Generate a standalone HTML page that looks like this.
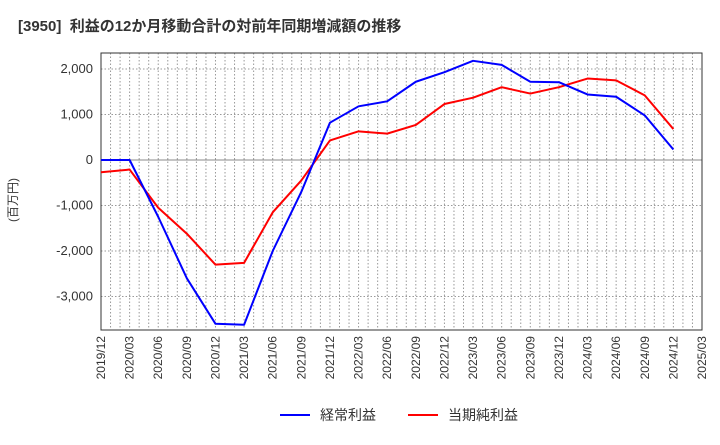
<!DOCTYPE html>
<html><head><meta charset="utf-8"><style>
body{margin:0;background:#fff;font-family:"Liberation Sans","Noto Sans CJK JP",sans-serif;}
</style></head><body>
<svg width="720" height="440" xmlns="http://www.w3.org/2000/svg" font-family="Liberation Sans, Noto Sans CJK JP, sans-serif">
<text x="18" y="31" font-size="15" font-weight="bold" fill="#333" xml:space="preserve">[3950]  利益の12か月移動合計の対前年同期増減額の推移</text>
<g id="grid"></g>
<g id="axes"></g>
<g id="series"></g>
<text transform="translate(17,200) rotate(-90)" font-size="12" fill="#333" text-anchor="middle">(百万円)</text>
<g>
<line x1="280" y1="415" x2="310" y2="415" stroke="#0000ff" stroke-width="2"/>
<text x="320" y="420" font-size="14" fill="#333">経常利益</text>
<line x1="408" y1="415" x2="438" y2="415" stroke="#ff0000" stroke-width="2"/>
<text x="448" y="420" font-size="14" fill="#333">当期純利益</text>
</g>
</svg>
<script>
const categories=["2019/12","2020/03","2020/06","2020/09","2020/12","2021/03","2021/06","2021/09","2021/12","2022/03","2022/06","2022/09","2022/12","2023/03","2023/06","2023/09","2023/12","2024/03","2024/06","2024/09","2024/12","2025/03"];
const ordinaryValues=[0,0,-1250,-2600,-3600,-3620,-2000,-700,820,1180,1290,1720,1930,2180,2090,1720,1710,1440,1390,980,230];
const netValues=[-270,-210,-1050,-1620,-2300,-2260,-1150,-450,430,630,580,770,1230,1370,1600,1460,1600,1790,1750,1420,680];
const yTicks=[2000,1000,0,-1000,-2000,-3000];
const yTickLabels=["2,000","1,000","0","-1,000","-2,000","-3,000"];
const NS="http://www.w3.org/2000/svg";
const L=101,R=702,T=53,B=330;
const xs=i=>L+i*(R-L)/21;
const ys=v=>160-v*0.0455;
function mk(p,tag,a){const e=document.createElementNS(NS,tag);for(const k in a)e.setAttribute(k,a[k]);p.appendChild(e);return e;}
const grid=document.getElementById('grid'),axes=document.getElementById('axes'),ser=document.getElementById('series');
for(let m=1;m<63;m++){const x=L+m*(R-L)/63;const g=mk(grid,'line',{x1:x,y1:T,x2:x,y2:B,stroke:'#999','stroke-dasharray':'1.5,2','stroke-width':1});

}
yTicks.forEach((v,i)=>{const y=ys(v);const g=mk(grid,'line',{x1:L,y1:y,x2:R,y2:y,stroke:v===0?'#888':'#999','stroke-dasharray':v===0?'none':'1.5,2','stroke-width':1});


const t=mk(axes,'text',{x:L-8,y:y+4,'font-size':13,fill:'#333','text-anchor':'end'});t.textContent=yTickLabels[i];

});
const fr=mk(axes,'rect',{x:L,y:T,width:R-L,height:B-T,fill:'none',stroke:'#333','stroke-width':1});


categories.forEach((c,i)=>{const x=xs(i);const t=mk(axes,'text',{transform:`translate(${x+4},${B+6}) rotate(-90)`,'font-size':12,fill:'#333','text-anchor':'end'});t.textContent=c;

});
function line(vals,color,name){const p=mk(ser,'polyline',{points:vals.map((v,i)=>xs(i)+','+ys(v)).join(' '),fill:'none',stroke:color,'stroke-width':2,'stroke-linejoin':'round'});

}
line(netValues,'#ff0000','net-income-line');
line(ordinaryValues,'#0000ff','ordinary-income-line');
</script>
</body></html>
